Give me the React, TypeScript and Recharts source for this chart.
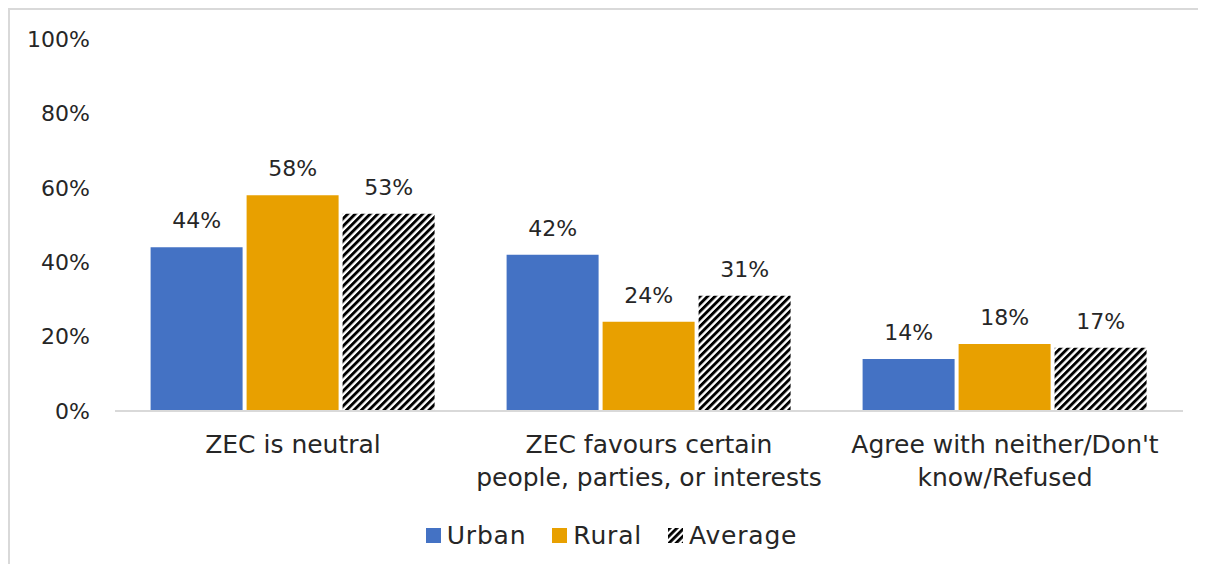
import React from 'react';
import { BarChart, Bar, XAxis, YAxis, CartesianGrid, Legend, LabelList } from 'recharts';

const categories = [
  ['ZEC is neutral'],
  ['ZEC favours certain', 'people, parties, or interests'],
  ["Agree with neither/Don't", 'know/Refused'],
];
const urban = [44, 42, 14];
const rural = [58, 24, 18];
const average = [53, 31, 17];
const yTicks = [0, 20, 40, 60, 80, 100];

const data = categories.map((lines, i) => ({
  name: lines.join(' '),
  lines,
  urban: urban[i],
  rural: rural[i],
  average: average[i],
}));

const FONT = '"DejaVu Sans", sans-serif';
const TEXT = '#262626';

const CategoryTick = (props: any) => {
  const { x, y, payload } = props;
  const lines = data[payload.index]?.lines ?? [payload.value];
  return (
    <text x={x} y={y} textAnchor="middle" fill={TEXT} fontSize={25} fontFamily={FONT}>
      {lines.map((l: string, i: number) => (
        <tspan key={i} x={x} dy={i === 0 ? 34 : 33}>
          {l}
        </tspan>
      ))}
    </text>
  );
};

const legendItems = [
  { label: 'Urban', fill: '#4472C4' },
  { label: 'Rural', fill: '#E8A000' },
  { label: 'Average', fill: 'url(#lg-hatch)' },
];

const CustomLegend = () => (
  <div
    style={{
      display: 'flex',
      justifyContent: 'center',
      gap: 26,
      paddingLeft: 30,
      fontFamily: FONT,
      fontSize: 25,
      letterSpacing: 0.8,
      color: TEXT,
    }}
  >
    {legendItems.map((it) => (
      <div key={it.label} style={{ display: 'flex', alignItems: 'center', gap: 6 }}>
        <svg width={15} height={15}>
          <defs>
            <pattern id="lg-hatch" width="5" height="5" patternUnits="userSpaceOnUse" patternTransform="rotate(45)">
              <rect width="5" height="5" fill="#fff" />
              <rect width="2.8" height="5" fill="#000" />
            </pattern>
          </defs>
          <rect width={15} height={15} fill={it.fill} />
        </svg>
        <span>{it.label}</span>
      </div>
    ))}
  </div>
);

export default function App() {
  return (
    <div
      style={{
        boxSizing: 'border-box',
        width: 1198,
        height: 556,
        borderLeft: '2px solid #d9d9d9',
        borderTop: '2px solid #d9d9d9',
        background: '#fff',
        overflow: 'hidden',
      }}
    >
      <BarChart
        width={1196}
        height={554}
        data={data}
        margin={{ top: 29, right: 23, left: 0, bottom: 3 }}
        barCategoryGap="10%"
        barGap={4}
      >
        <defs>
          <pattern id="hatch" width="5.3" height="5.3" patternUnits="userSpaceOnUse" patternTransform="rotate(45)">
            <rect width="5.3" height="5.3" fill="#fff" />
            <rect width="2.9" height="5.3" fill="#000" />
          </pattern>
        </defs>
        <CartesianGrid horizontal={false} vertical={false} />
        <XAxis
          dataKey="name"
          axisLine={{ stroke: '#d9d9d9', strokeWidth: 2 }}
          tickLine={false}
          height={110}
          interval={0}
          tick={<CategoryTick />}
        />
        <YAxis
          domain={[0, 100]}
          ticks={yTicks}
          width={105}
          axisLine={false}
          tickLine={false}
          tickSize={0}
          tickMargin={25}
          tickFormatter={(v: number) => `${v}%`}
          tick={{ fill: TEXT, fontSize: 22, fontFamily: FONT }}
        />
        <Legend verticalAlign="bottom" height={40} content={<CustomLegend />} />
        <Bar dataKey="urban" fill="#4472C4" isAnimationActive={false}>
          <LabelList dataKey="urban" position="top" offset={19} formatter={(v: any) => `${v}%`} fill={TEXT} fontSize={22} fontFamily={FONT} />
        </Bar>
        <Bar dataKey="rural" fill="#E8A000" isAnimationActive={false}>
          <LabelList dataKey="rural" position="top" offset={19} formatter={(v: any) => `${v}%`} fill={TEXT} fontSize={22} fontFamily={FONT} />
        </Bar>
        <Bar dataKey="average" fill="url(#hatch)" isAnimationActive={false}>
          <LabelList dataKey="average" position="top" offset={19} formatter={(v: any) => `${v}%`} fill={TEXT} fontSize={22} fontFamily={FONT} />
        </Bar>
      </BarChart>
    </div>
  );
}
